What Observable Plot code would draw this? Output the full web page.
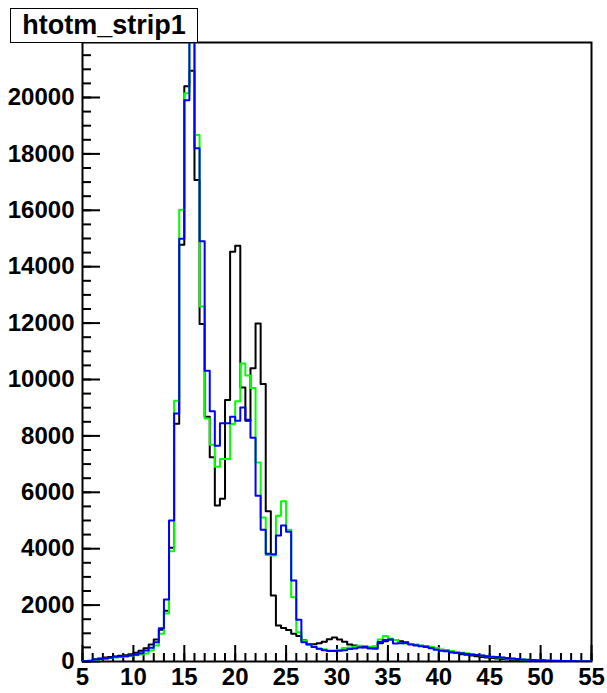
<!DOCTYPE html>
<html><head><meta charset="utf-8">
<script src="https://cdn.jsdelivr.net/npm/d3@7"></script>
<script src="https://cdn.jsdelivr.net/npm/@observablehq/plot@0.6"></script>
<style>
body{margin:0;background:#fff;}
#wrap{position:relative;width:607px;height:693px;}
#title{position:absolute;left:10px;top:8px;width:186px;height:33px;border:1.5px solid #000;background:#fff;font:bold 27px "Liberation Sans",Arial,sans-serif;display:flex;align-items:center;justify-content:center;z-index:2;}
</style></head><body>
<div id="wrap"><div id="title">htotm_strip1</div></div>
<script>
// bin lower edges: 100 bins of width 0.5 from 5 to 55
const binLow = d3.range(100).map(i => 5 + 0.5 * i);
const xMax = 55;

const blackCounts = [0,20,80,110,140,160,180,200,220,260,
  310,380,470,600,780,1130,1800,4030,8435,14780,
  20400,20950,17070,11970,8680,7240,5530,5770,9270,14530,
  14740,9720,8540,10400,11990,9840,5330,2340,1280,1190,
  1120,980,900,750,625,610,650,700,790,850,
  780,700,600,570,520,500,500,520,650,720,
  780,760,720,680,620,580,560,540,510,480,
  420,400,330,310,260,240,210,190,160,140,
  120,110,90,80,60,50,45,40,35,30,
  25,22,20,18,15,12,10,8,6,5];

const greenCounts = [0,20,60,80,100,120,140,160,180,200,
  220,250,280,390,570,980,1700,3910,9250,16020,
  20150,23000,18670,12590,8620,7690,6910,7180,7180,8420,
  9230,10570,10140,9700,7060,5110,3780,3760,5170,5680,
  4670,2280,1040,745,600,520,450,430,390,390,
  420,480,500,520,560,540,520,540,780,900,
  820,760,660,640,620,600,560,530,520,480,
  420,400,370,340,310,290,260,240,210,190,
  160,150,130,110,95,80,70,60,50,40,
  35,30,25,22,18,15,12,10,8,6];

const blueCounts = [5,30,70,90,110,130,170,180,190,210,
  240,290,390,485,685,1180,2200,5000,8790,14990,
  19900,23500,18200,14900,10310,8870,7650,8450,8450,8680,
  8540,9010,8570,7930,5880,4670,3820,3800,4470,4820,
  4600,2870,1480,685,600,510,450,400,370,370,
  380,400,440,460,500,520,460,450,690,760,
  780,640,650,660,600,580,540,510,470,420,
  380,360,330,300,290,270,250,230,210,190,
  170,160,140,120,105,90,75,65,55,45,
  40,35,30,25,20,18,15,12,10,8];

const xTicks = [5,10,15,20,25,30,35,40,45,50,55];
const xMinor = d3.range(5, 56, 1);
const yTicks = [0,2000,4000,6000,8000,10000,12000,14000,16000,18000,20000];
const yMinor = d3.range(0, 21951, 500);

function steps(counts) {
  const pts = binLow.map((x, i) => ({x, y: counts[i]}));
  pts.push({x: xMax, y: counts[counts.length - 1]});
  return pts;
}

const series = [
  {name: "black", counts: blackCounts, color: "#000000"},
  {name: "green", counts: greenCounts, color: "#00ff00"},
  {name: "blue", counts: blueCounts, color: "#0000ff"}
];

const chart = Plot.plot({
  width: 607, height: 693,
  marginLeft: 82, marginRight: 16, marginTop: 42, marginBottom: 32,
  x: {domain: [5, 55], label: null},
  y: {domain: [0, 21950], label: null},
  style: {fontFamily: "'Liberation Sans', Arial, sans-serif", fontSize: "24px", fontWeight: "bold", color: "#000", background: "#fff"},
  marks: [
    Plot.frame({stroke: "#000", strokeWidth: 2}),
    Plot.axisY(yMinor, {tickSize: -9, tickPadding: 0, tickFormat: () => "", strokeWidth: 2}),
    Plot.axisY(yTicks, {tickSize: -18, tickPadding: 26, tickFormat: d => String(d), strokeWidth: 2}),
    Plot.axisX(xMinor, {tickSize: -8, tickPadding: 0, tickFormat: () => "", strokeWidth: 2}),
    Plot.axisX(xTicks, {tickSize: -16, tickPadding: 22, tickFormat: d => String(d), strokeWidth: 2}),
    ...series.map(s => Plot.line(steps(s.counts), {x: "x", y: "y", curve: "step-after", stroke: s.color, strokeWidth: 2, clip: true}))
  ]
});
document.getElementById("wrap").appendChild(chart);
</script>
</body></html>
